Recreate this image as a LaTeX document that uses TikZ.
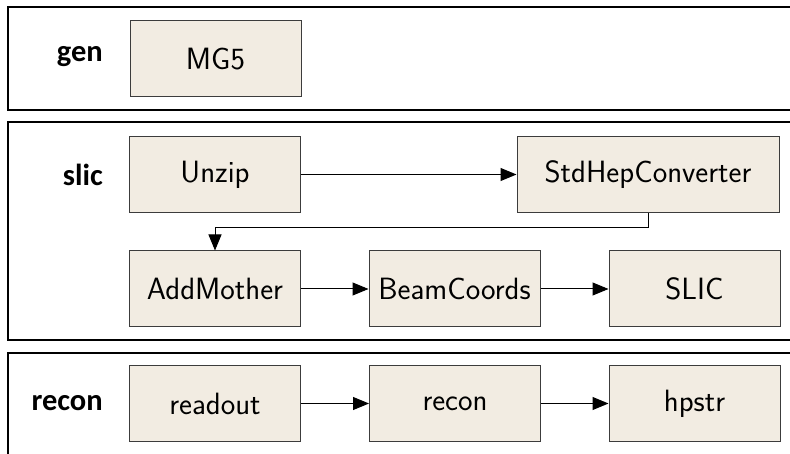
\documentclass[tikz,border=0pt]{standalone}
\usepackage{fontspec}
\newfontfamily\labelfont{Carlito}
\usetikzlibrary{arrows.meta}
\definecolor{boxfill}{RGB}{242,236,226}
\definecolor{boxline}{RGB}{60,60,60}
\tikzset{
  stage/.style={draw=boxline, line width=1pt, fill=boxfill, minimum width=171pt, minimum height=76pt, inner sep=0pt,
    font=\sffamily\fontsize{30.8}{34}\selectfont},
  frame/.style={draw=black, line width=2pt},
  grp/.style={anchor=east, inner sep=0pt, font=\labelfont\bfseries\fontsize{30.5}{34}\selectfont},
  flow/.style={draw=black, line width=1pt, -{Triangle[length=16pt,width=13pt]}}
}
\begin{document}
\begin{tikzpicture}[x=1pt,y=-1pt]
\useasboundingbox (0,0) rectangle (790,454);
\begin{scope}
\clip (0,0) rectangle (790,454);
\draw[frame] (800,7) -| (8,110) -- (800,110);
\draw[frame] (800,122) -| (8,340) -- (800,340);
\draw[frame] (800,353) -| (8,470);
\end{scope}
\node[grp] (lgen) at (103,57) {gen};
\node[grp] (lslic) at (103,175) {slic};
\node[grp] (lrecon) at (103,403) {recon};
\node[stage] (mg5) at (215.5,59) {MG5};
\node[stage] (unzip) at (215,174.5) {Unzip};
\node[stage, minimum width=262pt] (std) at (648,174.5) {StdHepConverter};
\node[stage] (addm) at (215,289) {AddMother};
\node[stage] (beam) at (454.5,289) {BeamCoords};
\node[stage] (slicb) at (694.5,289) {SLIC};
\node[stage] (readout) at (215,403.5) {readout};
\node[stage] (reconb) at (455,403.5) {recon};
\node[stage] (hpstr) at (694.5,403.5) {hpstr};
\coordinate (bend) at (648,228);
\draw[flow] (unzip) -- (std);
\draw[flow] (std.south) -- (bend) -| (addm.north);
\draw[flow] (addm) -- (beam);
\draw[flow] (beam) -- (slicb);
\draw[flow] (readout) -- (reconb);
\draw[flow] (reconb) -- (hpstr);
\end{tikzpicture}
\end{document}
